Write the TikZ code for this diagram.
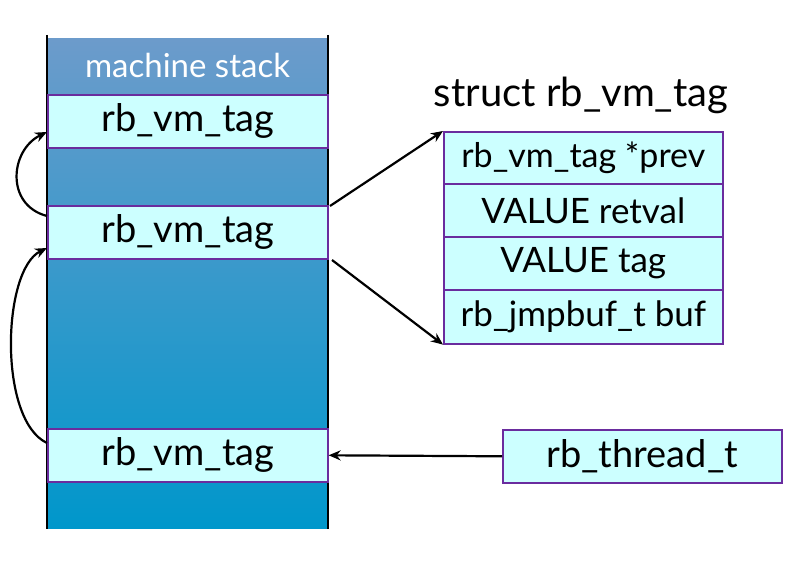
\documentclass[tikz,border=0pt]{standalone}
\usepackage{fontspec}
\setmainfont{Lato}
\usetikzlibrary{arrows.meta}
\definecolor{cellfill}{HTML}{CCFFFF}
\definecolor{cellline}{HTML}{6A2C9E}
\definecolor{stacktop}{HTML}{6C9BCB}
\definecolor{stackbot}{HTML}{0097CB}
\tikzset{
  cell/.style={draw=cellline, line width=1.6pt, fill=cellfill, minimum width=280pt, minimum height=53pt, inner sep=0pt, font=\fontsize{38}{38}\selectfont, text=black},
  scell/.style={draw=cellline, line width=1.6pt, fill=cellfill, minimum width=279pt, minimum height=53pt, inner sep=0pt, font=\fontsize{35}{35}\selectfont, text=black},
  arr/.style={line width=2.2pt, -{Stealth[length=12pt,width=10pt]}},
}
\begin{document}
\begin{tikzpicture}[x=1pt,y=-1pt]
\useasboundingbox (0,0) rectangle (800,561);
% stack body
\shade[top color=stacktop, bottom color=stackbot] (47,39) rectangle (328,528);
\draw[line width=2.6pt] (47,35) -- (47,529);
\draw[line width=2.6pt] (328,35) -- (328,529);
\node[text=white, font=\fontsize{33}{33}\selectfont] (hdr) at (187.5,65) {machine stack};
% stack cells
\node[cell, anchor=north west] (t1) at (47,94) {rb\_vm\_tag};
\node[cell, anchor=north west] (t2) at (47,205) {rb\_vm\_tag};
\node[cell, anchor=north west] (t3) at (47,428) {rb\_vm\_tag};
% struct
\node[font=\fontsize{40}{40}\selectfont] (title) at (581,95) {struct rb\_vm\_tag};
\node[scell, anchor=north west, minimum height=52pt, font=\fontsize{34}{34}\selectfont] (s1) at (443,131) {rb\_vm\_tag *prev};
\node[scell, anchor=north west, minimum height=53pt] (s2) at (443,183) {VALUE retval};
\node[scell, anchor=north west, minimum height=53pt] (s3) at (443,236) {VALUE tag};
\node[scell, anchor=north west, minimum height=54pt] (s4) at (443,289) {rb\_jmpbuf\_t buf};
% thread
\node[cell, anchor=north west, minimum width=279pt] (th) at (502,429) {rb\_thread\_t};
% connectors
\coordinate (a1) at (330,206);
\coordinate (a2) at (332,260);
\draw[arr] (a1) -- (s1.north west);
\draw[arr] (a2) -- (s4.south west);
\draw[arr] (th.west) -- (t3.east);
\draw[arr] (t2.west |- 0,216) .. controls (5,205) and (10,150) .. (t1.west |- 0,132);
\draw[arr] (t3.west |- 0,443) .. controls (-2,420) and (2,270) .. (t2.west |- 0,248);
\end{tikzpicture}
\end{document}
